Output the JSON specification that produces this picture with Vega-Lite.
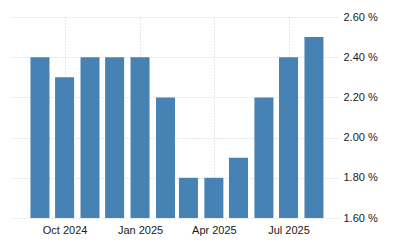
{
  "$schema": "https://vega.github.io/schema/vega-lite/v6.json",
  "width": 325,
  "height": 201,
  "autosize": {"type": "none"},
  "padding": {"left": 12, "top": 17, "right": 63, "bottom": 32},
  "background": "white",
  "config": {"view": {"stroke": null}, "font": "Liberation Sans"},
  "data": {
    "values": [
      {"date": "2024-09-01", "value": 2.4},
      {"date": "2024-10-01", "value": 2.3},
      {"date": "2024-11-01", "value": 2.4},
      {"date": "2024-12-01", "value": 2.4},
      {"date": "2025-01-01", "value": 2.4},
      {"date": "2025-02-01", "value": 2.2},
      {"date": "2025-03-01", "value": 1.8},
      {"date": "2025-04-01", "value": 1.8},
      {"date": "2025-05-01", "value": 1.9},
      {"date": "2025-06-01", "value": 2.2},
      {"date": "2025-07-01", "value": 2.4},
      {"date": "2025-08-01", "value": 2.5}
    ]
  },
  "mark": {"type": "bar", "size": 19, "color": "#4682b4"},
  "encoding": {
    "x": {
      "field": "date",
      "type": "temporal",
      "scale": {
        "type": "utc",
        "domain": [
          {"year": 2024, "month": 8, "date": 4, "utc": true},
          {"year": 2025, "month": 8, "date": 23, "utc": true}
        ]
      },
      "axis": {
        "title": null,
        "values": [
          {"year": 2024, "month": 10, "date": 1, "utc": true},
          {"year": 2025, "month": 1, "date": 1, "utc": true},
          {"year": 2025, "month": 4, "date": 1, "utc": true},
          {"year": 2025, "month": 7, "date": 1, "utc": true}
        ],
        "format": "%b %Y",
        "ticks": false,
        "domain": false,
        "grid": true,
        "gridColor": "#cccccc",
        "gridDash": [1, 2],
        "labelFontSize": 11,
        "labelColor": "#1a1a1a",
        "labelPadding": 6
      }
    },
    "y": {
      "field": "value",
      "type": "quantitative",
      "scale": {"domain": [1.6, 2.6], "zero": false, "nice": false},
      "axis": {
        "orient": "right",
        "title": null,
        "values": [1.6, 1.8, 2.0, 2.2, 2.4, 2.6],
        "labelExpr": "format(datum.value, '.2f') + ' %'",
        "ticks": false,
        "domain": false,
        "grid": true,
        "gridColor": "#cccccc",
        "gridDash": [1, 2],
        "labelFontSize": 11,
        "labelColor": "#1a1a1a",
        "labelPadding": 6
      }
    },
    "y2": {"datum": 1.6}
  }
}
